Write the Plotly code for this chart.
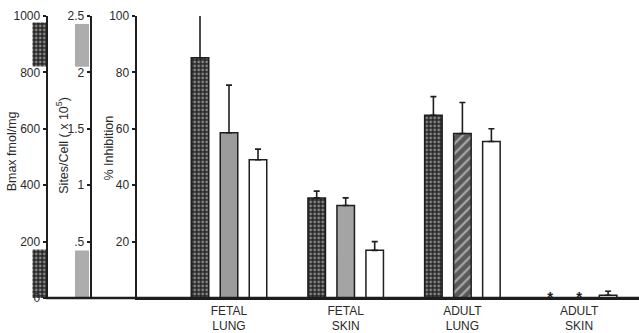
import plotly.graph_objects as go

# ---------------- data ----------------
groups = ["FETAL<br>LUNG", "FETAL<br>SKIN", "ADULT<br>LUNG", "ADULT<br>SKIN"]
series1 = [85.2, 35.5, 64.8, 0.0]      # dark checkered
series1_err = [15.5, 2.4, 6.6, 0.0]
series2 = [58.6, 32.8, 58.3, 0.0]      # grey
series2_err = [16.9, 2.7, 11.0, 0.0]
series3 = [49.0, 16.9, 55.5, 1.0]      # white
series3_err = [3.8, 3.1, 4.5, 1.4]
not_detected = [False, False, False, True]   # '*' for series 1 and 2

# range markers on the left scales
bmax_blocks_bottom = [821, 0]
bmax_blocks_top = [977, 172]
sites_blocks_bottom = [2.05, 0]
sites_blocks_top = [2.43, 0.42]

bmax_ticks = [0, 200, 400, 600, 800, 1000]
sites_ticks = [0.5, 1, 1.5, 2, 2.5]
sites_ticktext = [".5", "1", "1.5", "2", "2.5"]
inhib_ticks = [20, 40, 60, 80, 100]

# ---------------- style ----------------
W, H = 639, 333
INK = "#1e1e1e"
FONT = "Liberation Sans, Arial, sans-serif"
BARGAP = 0.2545
GROUPGAP = 0.396
xpos = list(range(len(groups)))

ax_bmax_px, ax_sites_px, ax_inhib_px = 46.7, 90.7, 136.7
grp0_px, grp_step_px = 229.0, 116.7

dark_pattern = dict(shape=".", fgcolor="#e6e6e6", bgcolor="#262626", size=4, solidity=0.38)

fig = go.Figure()

fig.add_trace(go.Bar(
    x=xpos, y=series1, name="s1", offsetgroup="a",
    marker=dict(color="#262626", pattern=dark_pattern, line=dict(color=INK, width=1.5)),
    error_y=dict(type="data", symmetric=False, array=series1_err, arrayminus=[0]*4,
                 color=INK, thickness=1.6, width=3),
    cliponaxis=False,
))
fig.add_trace(go.Bar(
    x=xpos, y=series2, name="s2", offsetgroup="b",
    marker=dict(color=["#9c9c9c", "#a4a4a4", "#595959", "#9c9c9c"],
                pattern=dict(shape=["", "", "/", ""], fgcolor="#404040", size=7, solidity=0.3),
                line=dict(color=INK, width=1.5)),
    error_y=dict(type="data", symmetric=False, array=series2_err, arrayminus=[0]*4,
                 color=INK, thickness=1.6, width=3),
    cliponaxis=False,
))
fig.add_trace(go.Bar(
    x=xpos, y=series3, name="s3", offsetgroup="c",
    marker=dict(color="white", line=dict(color=INK, width=1.5)),
    error_y=dict(type="data", symmetric=False, array=series3_err, arrayminus=[0]*4,
                 color=INK, thickness=1.6, width=3),
    cliponaxis=False,
))

# asterisks for not-detected values
slot = (1 - BARGAP) / 3
ast_x, ast_y = [], []
for i, nd in enumerate(not_detected):
    if nd:
        ast_x += [xpos[i] - slot, xpos[i]]
        ast_y += [0, 0]
fig.add_trace(go.Scatter(
    x=ast_x, y=ast_y, mode="text", text=["<b>*</b>"] * len(ast_x),
    textposition="middle center", textfont=dict(size=15, color=INK, family=FONT),
    cliponaxis=False, showlegend=False, hoverinfo="skip",
))

# left-scale range blocks
fig.add_trace(go.Bar(
    x=[0, 0], y=[t - b for t, b in zip(bmax_blocks_top, bmax_blocks_bottom)],
    base=bmax_blocks_bottom, width=0.33, xaxis="x2", yaxis="y2",
    marker=dict(color="#262626", pattern=dark_pattern, line=dict(width=0)),
    showlegend=False,
))
fig.add_trace(go.Bar(
    x=[1, 1], y=[t - b for t, b in zip(sites_blocks_top, sites_blocks_bottom)],
    base=sites_blocks_bottom, width=0.33, xaxis="x2", yaxis="y3",
    marker=dict(color="#adadad", line=dict(width=0)),
    showlegend=False,
))

x_left = (ax_inhib_px - grp0_px) / grp_step_px
x_right = (W - grp0_px) / grp_step_px

tickfont = dict(family=FONT, size=12, color="#2a2a2a")
common_y = dict(showgrid=False, zeroline=False, showline=True, linecolor=INK, linewidth=2.2,
                ticks="outside", ticklen=3, tickwidth=1.5, tickcolor=INK, tickfont=tickfont,
                domain=[0, 1], side="left")

blk_c0 = ax_bmax_px - 7.2
blk_c1 = ax_sites_px - 8.7
span = blk_c1 - blk_c0

title_font = dict(family=FONT, size=12.5, color="#2a2a2a")

fig.update_layout(
    width=W, height=H,
    margin=dict(l=0, r=0, t=16, b=27),
    paper_bgcolor="white", plot_bgcolor="rgba(0,0,0,0)",
    barmode="group", bargap=BARGAP, bargroupgap=GROUPGAP,
    showlegend=False,
    font=dict(family=FONT, color="#2a2a2a"),
    xaxis=dict(domain=[ax_inhib_px / W, 1], range=[x_left, x_right],
               tickvals=xpos, ticktext=groups, ticks="", showgrid=False, zeroline=False,
               showline=True, linecolor=INK, linewidth=2.4,
               tickfont=dict(family=FONT, size=12, color="#2a2a2a"), anchor="y"),
    xaxis2=dict(domain=[(blk_c0 - span / 2) / W, (blk_c1 + span / 2) / W],
                range=[-0.5, 1.5], visible=False, anchor="y2"),
    yaxis=dict(range=[0, 100], tickvals=inhib_ticks, anchor="x", **common_y),
    yaxis2=dict(range=[0, 1000], tickvals=bmax_ticks, anchor="free",
                position=ax_bmax_px / W, **common_y),
    yaxis3=dict(range=[0, 2.5], tickvals=sites_ticks, ticktext=sites_ticktext,
                anchor="free", position=ax_sites_px / W, **common_y),
    shapes=[dict(type="line", xref="paper", yref="paper", x0=(ax_bmax_px - 1) / W, x1=1,
                 y0=0, y1=0, line=dict(color=INK, width=2.4))],
    annotations=[
        dict(text="Bmax fmol/mg", x=12 / W, y=0.52, xref="paper", yref="paper",
             xanchor="center", yanchor="middle",
             textangle=-90, showarrow=False, font=title_font),
        dict(text="Sites/Cell ( x 10<sup>5</sup>)", x=62 / W, y=0.54, xref="paper", yref="paper",
             xanchor="center", yanchor="middle",
             textangle=-90, showarrow=False, font=title_font),
        dict(text="% Inhibition", x=109 / W, y=0.53, xref="paper", yref="paper",
             xanchor="center", yanchor="middle",
             textangle=-90, showarrow=False, font=title_font),
    ],
)

fig.write_html("out.html")
